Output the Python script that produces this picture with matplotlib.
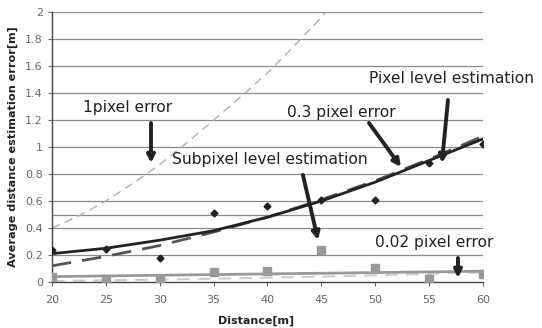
import matplotlib
matplotlib.use("Agg")
import matplotlib.pyplot as plt

# distances [m]
distance = [20, 25, 30, 35, 40, 45, 50, 55, 60]

# measured errors
pixel_level = [0.24, 0.245, 0.18, 0.51, 0.56, 0.61, 0.61, 0.88, 1.02]
subpixel_level = [0.04, 0.02, 0.02, 0.076, 0.084, 0.237, 0.106, 0.02, 0.057]

# trend lines
pixel_trend = [0.21, 0.25, 0.31, 0.38, 0.48, 0.60, 0.74, 0.90, 1.06]
subpixel_trend = [0.04, 0.045, 0.05, 0.055, 0.06, 0.065, 0.07, 0.075, 0.08]

# theoretical error curves
err_1px_x = [20, 22.5, 25, 27.5, 30, 32.5, 35, 37.5, 40, 42.5, 45, 47.5]
err_1px = [0.40, 0.49, 0.60, 0.73, 0.87, 1.03, 1.20, 1.37, 1.55, 1.75, 1.96, 2.18]
err_03px = [0.12, 0.19, 0.27, 0.37, 0.48, 0.61, 0.75, 0.91, 1.08]
err_002px = [0.008, 0.0125, 0.018, 0.0245, 0.032, 0.040, 0.050, 0.060, 0.072]

x_ticks = [20, 25, 30, 35, 40, 45, 50, 55, 60]
y_ticks = [0, 0.2, 0.4, 0.6, 0.8, 1, 1.2, 1.4, 1.6, 1.8, 2]
y_labels = ["0", "0.2", "0.4", "0.6", "0.8", "1", "1.2", "1.4", "1.6", "1.8", "2"]

fig = plt.figure(figsize=(5.42, 3.28), dpi=100)
ax = fig.add_axes([0.0959, 0.1402, 0.7952, 0.8232])

for y in y_ticks[1:] + [0.5]:
    ax.axhline(y, color="#8a8a8a", lw=0.9, zorder=0)

ax.plot(err_1px_x, err_1px, color="#b0b0b0", lw=1.0, ls=(0, (6, 4)), zorder=2)
ax.plot(distance, err_03px, color="#555555", lw=2.0, ls=(0, (7, 4)), zorder=3)
ax.plot(distance, pixel_trend, color="#222222", lw=2.0, zorder=4)
ax.plot(distance, err_002px, color="#cccccc", lw=1.5, ls=(0, (6, 4)), zorder=2)
ax.plot(distance, subpixel_trend, color="#999999", lw=2.0, zorder=3)
ax.plot(distance, pixel_level, ls="none", marker="D", ms=3.5, color="#222222", zorder=5)
ax.plot(distance, subpixel_level, ls="none", marker="s", ms=5.5, color="#999999", zorder=5)

ax.set_xlim(20, 60)
ax.set_ylim(0, 2)
ax.set_xticks(x_ticks)
ax.set_yticks(y_ticks)
ax.set_yticklabels(y_labels)
ax.tick_params(axis="both", labelsize=8, colors="#666666", length=3, width=0.8)
ax.tick_params(axis="x", pad=6)
for s in ["top", "right"]:
    ax.spines[s].set_visible(False)
for s in ["left", "bottom"]:
    ax.spines[s].set_color("#444444")
    ax.spines[s].set_linewidth(1.0)

ax.set_xlabel("Distance[m]", fontsize=8, fontweight="bold", color="#222222")
ax.xaxis.set_label_coords(0.473, -0.125)
ax.set_ylabel("Average distance estimation error[m]", fontsize=8.1, fontweight="bold",
              color="#222222", labelpad=5)

arrow = dict(arrowstyle="-|>", lw=2.8, color="#222222", mutation_scale=11, shrinkA=0, shrinkB=0)
txt = dict(fontsize=11.2, color="#222222", ha="left", va="center", annotation_clip=False)

ax.annotate("", xy=(29.19, 0.881), xytext=(29.19, 1.178), arrowprops=arrow)
ax.annotate("1pixel error", xy=(22.88, 1.296), **txt)

ax.annotate("", xy=(56.19, 0.881), xytext=(56.75, 1.348), arrowprops=arrow)
ax.annotate("Pixel level estimation", xy=(49.42, 1.504), **txt)

ax.annotate("", xy=(52.39, 0.852), xytext=(49.42, 1.178), arrowprops=arrow)
ax.annotate("0.3 pixel error", xy=(41.81, 1.259), **txt)

ax.annotate("", xy=(44.69, 0.311), xytext=(43.29, 0.793), arrowprops=arrow)
ax.annotate("Subpixel level estimation", xy=(31.14, 0.904), **txt)

ax.annotate("", xy=(57.68, 0.03), xytext=(57.68, 0.178), arrowprops=arrow)
ax.annotate("0.02 pixel error", xy=(49.98, 0.296), **txt)

fig.savefig("out.png", dpi=100)
